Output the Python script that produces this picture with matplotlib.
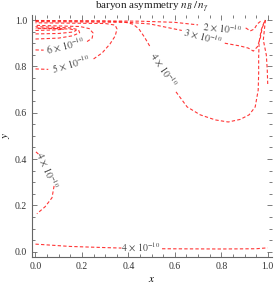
import matplotlib
matplotlib.use("Agg")
import matplotlib.pyplot as plt
from matplotlib.ticker import MultipleLocator

plt.rcParams["font.family"] = ["Liberation Serif", "DejaVu Serif"]
plt.rcParams["mathtext.fontset"] = "stix"

# contour paths, (x, y) in data units
lvl4_loop_a = [(0.0, 0.996), (0.30, 0.995), (0.38, 0.992), (0.420, 0.982),
               (0.445, 0.962), (0.470, 0.925), (0.495, 0.882)]
lvl4_loop_b = [(0.605, 0.690), (0.653, 0.625), (0.709, 0.591), (0.774, 0.569),
               (0.830, 0.560), (0.881, 0.571), (0.920, 0.591), (0.946, 0.625),
               (0.959, 0.698), (0.961, 0.772), (0.961, 0.841), (0.963, 0.905),
               (0.972, 0.957), (0.988, 1.0)]
lvl4_left_a = [(0.002, 0.431), (0.020, 0.415)]
lvl4_left_b = [(0.080, 0.284), (0.071, 0.233), (0.041, 0.194), (0.006, 0.164)]
lvl4_bottom_a = [(0.0, 0.033), (0.149, 0.023), (0.30, 0.018), (0.37, 0.016)]
lvl4_bottom_b = [(0.545, 0.013), (0.795, 0.012), (0.95, 0.013), (1.0, 0.017)]

lvl3_a = [(0.0, 0.993), (0.40, 0.990), (0.493, 0.983), (0.630, 0.955)]
lvl3_b = [(0.815, 0.900), (0.881, 0.888), (0.916, 0.879), (0.938, 0.866),
          (0.955, 0.884), (0.968, 0.922), (0.976, 0.966), (0.990, 1.0)]

lvl2_a = [(0.0, 0.998), (0.45, 0.995), (0.60, 0.990), (0.70, 0.979)]
lvl2_b = [(0.905, 0.966), (0.925, 0.953), (0.942, 0.961), (0.955, 0.983),
          (0.976, 1.0)]
lvl2_right = [(0.990, 1.0), (0.981, 0.914), (0.994, 0.849), (0.998, 0.784),
              (1.0, 0.724)]

lvl5_a = [(0.0, 0.789), (0.055, 0.787)]
lvl5_b = [(0.250, 0.832), (0.287, 0.858), (0.321, 0.897), (0.343, 0.931),
          (0.351, 0.961), (0.343, 0.978), (0.300, 0.985), (0.0, 0.988)]
lvl6_a = [(0.0, 0.871), (0.035, 0.870)]
lvl6_b = [(0.222, 0.907), (0.244, 0.922), (0.248, 0.944), (0.231, 0.963),
          (0.192, 0.972), (0.0, 0.977)]
lvl7 = [(0.0, 0.918), (0.10, 0.922), (0.16, 0.932), (0.19, 0.945), (0.185, 0.958),
        (0.15, 0.966), (0.05, 0.970), (0.0, 0.971)]
lvl8 = [(0.0, 0.940), (0.10, 0.942), (0.16, 0.948), (0.175, 0.955), (0.15, 0.961),
        (0.0, 0.966)]
lvl9 = [(0.0, 0.955), (0.08, 0.957), (0.12, 0.960), (0.10, 0.963), (0.0, 0.963)]

paths = [lvl4_loop_a, lvl4_loop_b, lvl4_left_a, lvl4_left_b, lvl4_bottom_a,
         lvl4_bottom_b, lvl3_a, lvl3_b, lvl2_a, lvl2_b, lvl2_right,
         lvl5_a, lvl5_b, lvl6_a, lvl6_b, lvl7, lvl8, lvl9]

# contour labels: text, x, y, rotation
label_texts = [r"$2\,\times\,10^{-10}$", r"$3\,\times\,10^{-10}$", r"$4\,\times\,10^{-10}$",
               r"$4\,\times\,10^{-10}$", r"$4\,\times\,10^{-10}$", r"$5\,\times\,10^{-10}$",
               r"$6\,\times\,10^{-10}$"]
label_x = [0.804, 0.722, 0.552, 0.050, 0.455, 0.152, 0.128]
label_y = [0.963, 0.927, 0.785, 0.350, 0.017, 0.808, 0.888]
label_rot = [-6, -15, -56, -66, 0, 16, 14]

fig = plt.figure(figsize=(2.76, 2.87), dpi=100)
ax = fig.add_axes([0.116, 0.105, 0.870, 0.843])

for pts in paths:
    xs = [p[0] for p in pts]
    ys = [p[1] for p in pts]
    ax.plot(xs, ys, color="#ff2020", lw=0.8, ls=(0, (3, 2)), alpha=0.9)

for t, lx, ly, r in zip(label_texts, label_x, label_y, label_rot):
    ax.text(lx, ly, t, fontsize=7, color="#444444", rotation=r,
            ha="center", va="center", rotation_mode="anchor")

ax.set_xlim(-0.015, 1.019)
ax.set_ylim(-0.022, 1.022)
ax.xaxis.set_major_locator(MultipleLocator(0.2))
ax.xaxis.set_minor_locator(MultipleLocator(0.05))
ax.yaxis.set_major_locator(MultipleLocator(0.2))
ax.yaxis.set_minor_locator(MultipleLocator(0.05))
ax.tick_params(which="both", direction="in", top=True, right=True,
               color="#666666", labelsize=7, labelcolor="#333333", width=0.6)
ax.tick_params(which="major", length=3.5)
ax.tick_params(which="minor", length=2)
for side in ["top", "right"]:
    ax.spines[side].set_visible(False)
for side in ["left", "bottom"]:
    ax.spines[side].set_color("#666666")
    ax.spines[side].set_linewidth(0.8)

ax.set_title(r"baryon asymmetry $n_B\,/\,n_\gamma$", fontsize=8, pad=1.5, color="#222222")
ax.set_xlabel("$x$", fontsize=8, labelpad=3)
ax.set_ylabel("$y$", fontsize=8, labelpad=2)

fig.savefig("out.png", dpi=100)
